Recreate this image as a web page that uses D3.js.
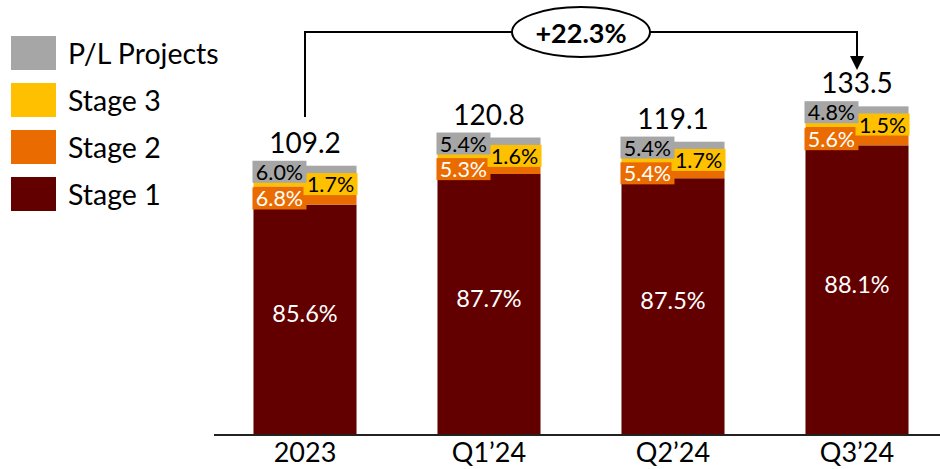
<!DOCTYPE html>
<html>
<head>
<meta charset="utf-8">
<script src="https://cdn.jsdelivr.net/npm/d3@7"></script>
<style>
  body { margin: 0; background: #fff; }
  svg text { font-family: Lato, "Noto Sans", sans-serif; }
</style>
</head>
<body>
<div id="chart"></div>
<script>
const categories = ["2023", "Q1’24", "Q2’24", "Q3’24"];
const totals = [109.2, 120.8, 119.1, 133.5];
const stage1 = [85.6, 87.7, 87.5, 88.1];
const stage2 = [6.8, 5.3, 5.4, 5.6];
const stage3 = [1.7, 1.6, 1.7, 1.5];
const plProjects = [6.0, 5.4, 5.4, 4.8];
const growthLabel = "+22.3%";

const STAGE1_COLOR = "#620000";
const STAGE2_COLOR = "#EA6C00";
const STAGE3_COLOR = "#FFC000";
const PL_COLOR = "#A6A6A6";

const series = [
	{ name: "Stage 1", values: stage1, color: STAGE1_COLOR },
	{ name: "Stage 2", values: stage2, color: STAGE2_COLOR },
	{ name: "Stage 3", values: stage3, color: STAGE3_COLOR },
	{ name: "P/L Projects", values: plProjects, color: PL_COLOR },
];

const width = 940;
const height = 469;

const svg = d3
	.select("#chart")
	.append("svg")
	.attr("width", width)
	.attr("height", height);

const x = d3
	.scaleBand()
	.domain(categories)
	.range([213, 949])
	.paddingInner(0.44)
	.paddingOuter(0.22);

const y = d3.scaleLinear().domain([0, 140]).range([434, 90.4]);

// build stacked segments (absolute values from total * share)
const rows = categories.map(function (c, i) {
	let acc = 0;
	const segs = series.map(function (s) {
		const v = (totals[i] * s.values[i]) / 100;
		const seg = { key: s.name, color: s.color, pct: s.values[i], y0: acc, y1: acc + v };
		acc += v;
		return seg;
	});
	return { cat: c, total: totals[i], segs: segs };
});

const bars = svg
	.append("g")
	.selectAll("g")
	.data(rows)
	.join("g");

bars.selectAll("rect")
	.data(function (d) {
		return d.segs.map(function (s) {
			return Object.assign({ cat: d.cat }, s);
		});
	})
	.join("rect")
	.attr("x", function (d) { return x(d.cat); })
	.attr("width", x.bandwidth())
	.attr("y", function (d) { return y(d.y1); })
	.attr("height", function (d) { return y(d.y0) - y(d.y1); })
	.attr("fill", function (d) { return d.color; });

// x axis
svg.append("line")
	.attr("x1", 214)
	.attr("x2", 940)
	.attr("y1", y(0) + 1)
	.attr("y2", y(0) + 1)
	.attr("stroke", "#222")
	.attr("stroke-width", 2);

svg.append("g")
	.selectAll("text")
	.data(categories)
	.join("text")
	.attr("x", function (d) { return x(d) + x.bandwidth() / 2; })
	.attr("y", 462)
	.attr("text-anchor", "middle")
	.attr("font-size", "27px")
	.attr("fill", "#000")
	.text(function (d) { return d; });

// stage 1 labels inside the bar
bars.append("text")
	.attr("x", function (d) { return x(d.cat) + x.bandwidth() / 2; })
	.attr("y", function (d) { return y((d.segs[0].y0 + d.segs[0].y1) / 2) - 6; })
	.attr("text-anchor", "middle")
	.attr("dominant-baseline", "central")
	.attr("font-size", "23.5px")
	.attr("fill", "#fff")
	.text(function (d) { return d.segs[0].pct.toFixed(1) + "%"; });

// small segment labels with filled boxes: stage 2 left, stage 3 right, P/L left on top
function boxLabel(idx, side, dy, textColor) {
	const g = bars.append("g");
	const bw = 54;
	const bh = 22;
	g.append("rect")
		.attr("x", function (d) {
			return side === "left" ? x(d.cat) - 1 : x(d.cat) + x.bandwidth() - bw + 1;
		})
		.attr("y", function (d) {
			const s = d.segs[idx];
			return y((s.y0 + s.y1) / 2) + dy - bh / 2;
		})
		.attr("width", bw)
		.attr("height", bh)
		.attr("fill", function (d) { return d.segs[idx].color; });
	g.append("text")
		.attr("x", function (d) {
			return side === "left" ? x(d.cat) - 1 + bw / 2 : x(d.cat) + x.bandwidth() - bw / 2 + 1;
		})
		.attr("y", function (d) {
			const s = d.segs[idx];
			return y((s.y0 + s.y1) / 2) + dy;
		})
		.attr("text-anchor", "middle")
		.attr("dominant-baseline", "central")
		.attr("font-size", "21.5px")
		.attr("fill", textColor)
		.text(function (d) { return d.segs[idx].pct.toFixed(1) + "%"; });
}
boxLabel(1, "left", 3, "#fff");
boxLabel(2, "right", 0, "#000");
boxLabel(3, "left", -2, "#000");

// totals above bars
bars.append("text")
	.attr("x", function (d) { return x(d.cat) + x.bandwidth() / 2; })
	.attr("y", function (d) { return y(d.total) - 13; })
	.attr("text-anchor", "middle")
	.attr("font-size", "28px")
	.attr("fill", "#000")
	.text(function (d) { return d.total.toFixed(1); });

// growth connector from first to last bar
const xFirst = x(categories[0]) + x.bandwidth() / 2;
const xLast = x(categories[categories.length - 1]) + x.bandwidth() / 2;
const lineY = 32;

svg.append("path")
	.attr("d", "M" + xFirst + "," + (y(totals[0]) - 49) + " V" + lineY + " H" + xLast + " V" + 58)
	.attr("fill", "none")
	.attr("stroke", "#000")
	.attr("stroke-width", 2);

svg.append("path")
	.attr("d", "M" + (xLast - 7) + "," + 56 + " L" + (xLast + 7) + "," + 56 + " L" + xLast + "," + 70 + " Z")
	.attr("fill", "#000");

const midX = (xFirst + xLast) / 2;
svg.append("ellipse")
	.attr("cx", midX)
	.attr("cy", lineY)
	.attr("rx", 69)
	.attr("ry", 25)
	.attr("fill", "#fff")
	.attr("stroke", "#000")
	.attr("stroke-width", 2);

svg.append("text")
	.attr("x", midX)
	.attr("y", lineY)
	.attr("text-anchor", "middle")
	.attr("dominant-baseline", "central")
	.attr("font-size", "27px")
	.attr("font-weight", "bold")
	.attr("fill", "#000")
	.text(growthLabel);

// legend
const legendItems = series.slice().reverse();
const legend = svg
	.append("g")
	.selectAll("g")
	.data(legendItems)
	.join("g")
	.attr("transform", function (d, i) { return "translate(11," + (36 + i * 47) + ")"; });

legend.append("rect")
	.attr("width", 45)
	.attr("height", 34)
	.attr("fill", function (d) { return d.color; });

legend.append("text")
	.attr("x", 57)
	.attr("y", 17)
	.attr("dominant-baseline", "central")
	.attr("font-size", "28.5px")
	.attr("fill", "#000")
	.text(function (d) { return d.name; });
</script>
</body>
</html>
